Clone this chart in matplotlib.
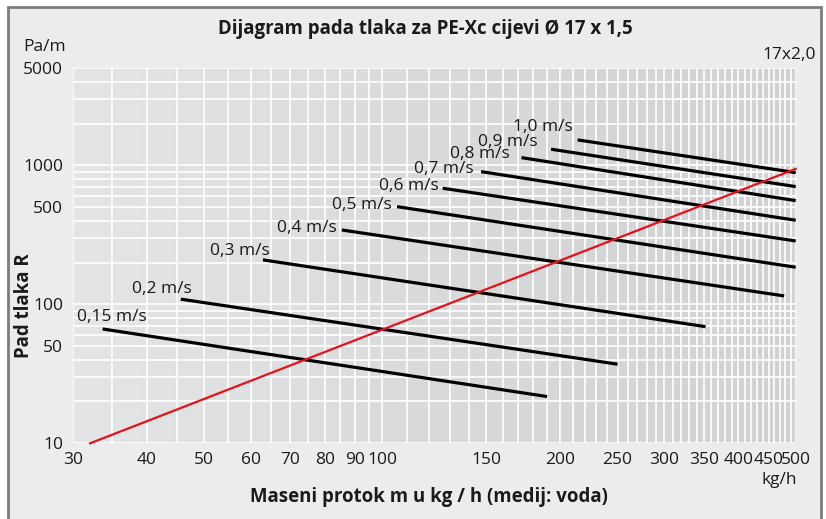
import numpy as np
import matplotlib.pyplot as plt
from matplotlib.ticker import FixedLocator, NullFormatter
from matplotlib.patches import Rectangle
from matplotlib.colors import LinearSegmentedColormap

plt.rcParams['font.family'] = ['Open Sans', 'DejaVu Sans']

## data
# mass flow (kg/h) and pressure drop (Pa/m) at both ends of each velocity line
velocities = ['0,15 m/s', '0,2 m/s', '0,3 m/s', '0,4 m/s', '0,5 m/s',
              '0,6 m/s', '0,7 m/s', '0,8 m/s', '0,9 m/s', '1,0 m/s']
flow_start = [33.7, 45.7, 62.9, 85.5, 106, 126.6, 147, 172, 193, 214]
flow_end = [190, 250, 352, 478, 500, 500, 500, 500, 500, 500]
drop_start = [66.5, 109, 209, 343, 505, 685, 902, 1138, 1308, 1526]
drop_end = [21.7, 37.1, 69.1, 115, 185, 286, 403, 558, 704, 888]

# pipe 17x2,0 characteristic
red_flow = [32.1, 500]
red_drop = [10, 944]

x_ticks = [30, 40, 50, 60, 70, 80, 90, 100, 150, 200, 250, 300, 350, 400, 450, 500]
y_ticks = [10, 50, 100, 500, 1000, 5000]
x_grid = list(range(30, 100, 5)) + list(range(100, 501, 10))
y_grid = list(range(10, 100, 10)) + list(range(100, 1000, 100)) + list(range(1000, 5001, 1000))

# label offsets in pixels: right edge / vertical centre relative to line start
label_offsets = [(44, 12), (11, 10), (7, 9), (-5, 2), (-5, 2),
                 (-4, 2), (-7, 2.5), (-12, 4), (-13, 7.5), (-5, 13)]

## plotting
fig = plt.figure(figsize=(8.26, 5.19), dpi=100)
fig.patch.set_facecolor('white')

# light frame around the whole chart
frame = Rectangle((8 / 826, -0.02), 813 / 826, 1.02 - 7 / 519,
                  transform=fig.transFigure, facecolor='#ebecee',
                  edgecolor='#7d7d7d', linewidth=2, zorder=-10)
fig.patches.append(frame)

ax = fig.add_axes([72.7 / 826, (519 - 443.3) / 519, 723 / 826, 375 / 519])
ax.set_xscale('log')
ax.set_yscale('log')

# gray gradient background
grad = np.linspace(0, 1, 256).reshape(1, -1)
bg_cmap = LinearSegmentedColormap.from_list('bg', ['#e4e5e6', '#d9dadc', '#cfd1d3'])
ax.imshow(grad, extent=[0, 1, 0, 1], transform=ax.transAxes, aspect='auto',
          cmap=bg_cmap, zorder=0)

ax.set_xlim(30, 500)
ax.set_ylim(10, 5000)

ax.xaxis.set_major_locator(FixedLocator(x_ticks))
ax.yaxis.set_major_locator(FixedLocator(y_ticks))
ax.xaxis.set_minor_locator(FixedLocator(x_grid))
ax.yaxis.set_minor_locator(FixedLocator(y_grid))
ax.xaxis.set_minor_formatter(NullFormatter())
ax.yaxis.set_minor_formatter(NullFormatter())
ax.set_xticklabels([str(t) for t in x_ticks])
ax.set_yticklabels([str(t) for t in y_ticks])
ax.tick_params(which='both', length=0, labelsize=12.5, colors='#1a1a1a')
ax.tick_params(axis='x', pad=6)
ax.tick_params(axis='y', pad=7)
ax.grid(True, which='both', color='white', linewidth=1.2, zorder=1)
ax.set_axisbelow(False)
for s in ax.spines.values():
    s.set_visible(False)

# velocity lines, labels knocked out of the grid
lx0, lx1 = np.log10(30), np.log10(500)
for i in range(len(velocities)):
    ax.plot([flow_start[i], flow_end[i]], [drop_start[i], drop_end[i]],
            color='black', linewidth=2.3, solid_capstyle='butt', zorder=3)
    frac = (np.log10(flow_start[i]) - lx0) / (lx1 - lx0) - 0.05
    # background patch first (hidden text), then the visible label on top
    ax.annotate(velocities[i], xy=(flow_start[i], drop_start[i]),
                xytext=label_offsets[i], textcoords='offset pixels',
                ha='right', va='center', fontsize=12.5, alpha=0,
                bbox=dict(facecolor=bg_cmap(max(frac, 0)), edgecolor='none', pad=0.3),
                zorder=2)
    ax.annotate(velocities[i], xy=(flow_start[i], drop_start[i]),
                xytext=label_offsets[i], textcoords='offset pixels',
                ha='right', va='center', fontsize=12.5, color='#1a1a1a',
                zorder=4)

ax.plot(red_flow, red_drop, color='#e8111a', linewidth=1.6, zorder=5, clip_on=False)

# titles and unit labels
fig.text(425 / 826, 1 - 29 / 519, 'Dijagram pada tlaka za PE-Xc cijevi Ø 17 x 1,5',
         ha='center', va='center', fontsize=13.4, fontweight='bold', color='#1a1a1a')
fig.text(45 / 826, 1 - 47 / 519, 'Pa/m', ha='center', va='center', fontsize=12.5, color='#1a1a1a')
fig.text(816 / 826, 1 - 55 / 519, '17x2,0', ha='right', va='center', fontsize=12.5, color='#1a1a1a')
fig.text(797 / 826, 1 - 480 / 519, 'kg/h', ha='right', va='center', fontsize=12.5, color='#1a1a1a')
fig.text(429 / 826, 1 - 497 / 519, 'Maseni protok m u kg / h (medij: voda)',
         ha='center', va='center', fontsize=13.4, fontweight='bold', color='#1a1a1a')
fig.text(24 / 826, 1 - 306 / 519, 'Pad tlaka R', ha='center', va='center', rotation=90,
         fontsize=13.4, fontweight='bold', color='#1a1a1a')

plt.savefig('out.png', dpi=100)
